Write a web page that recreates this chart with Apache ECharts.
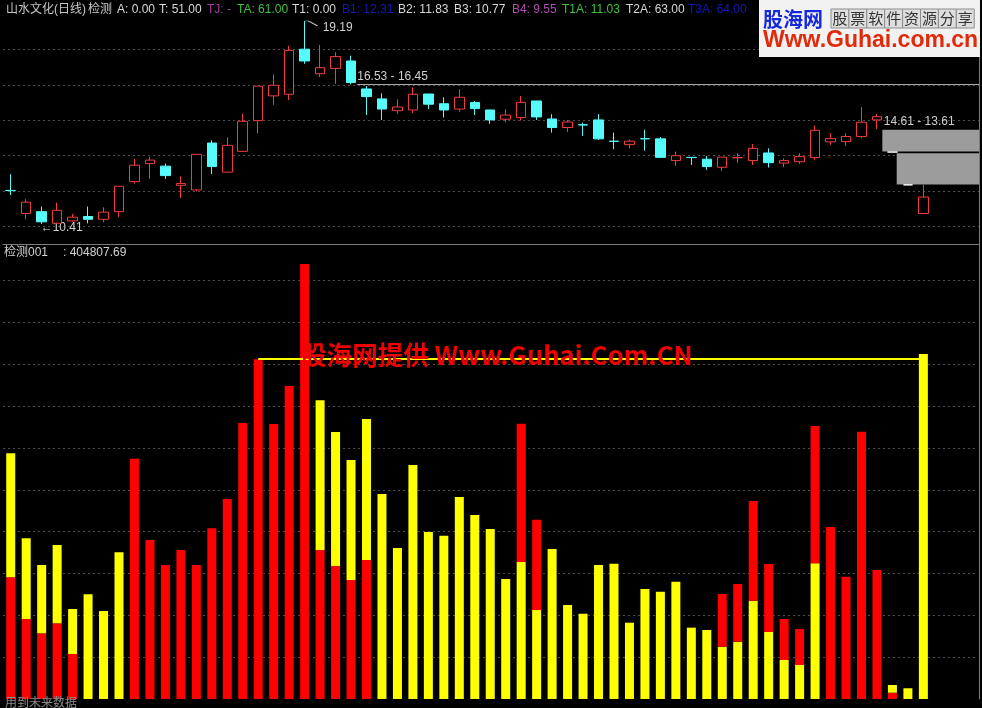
<!DOCTYPE html>
<html><head><meta charset="utf-8">
<script src="https://cdn.jsdelivr.net/npm/echarts@6/dist/echarts.min.js"></script>
<style>html,body{margin:0;padding:0;background:#000;}#c{width:982px;height:708px;}</style>
</head><body><div id="c"></div>
<script>
// ---- price data (day index = array position) ----
const openP  = [11.86,10.86,10.94,10.44,10.54,10.73,10.61,10.94,12.24,13.02,12.91,12.08,11.88,13.91,12.65,13.55,14.88,15.95,16.02,17.97,
                16.91,17.14,17.46,16.25,15.82,15.31,15.34,16.03,15.61,15.38,15.66,15.34,14.94,15.01,15.73,14.95,14.58,14.70,14.91,13.99,
                13.84,14.10,14.09,13.15,13.29,13.21,12.86,13.27,13.15,13.48,13.04,13.10,13.28,13.96,13.97,14.19,14.91,null,null,10.86];
const closeP = [11.85,11.35,10.50,11.00,10.70,10.61,10.92,12.04,12.95,13.17,12.50,12.16,13.42,12.89,13.81,14.85,16.37,16.41,17.92,17.46,
                17.17,17.65,16.53,15.92,15.38,15.47,16.02,15.59,15.34,15.89,15.40,14.91,15.12,15.67,15.04,14.58,14.82,14.69,14.09,13.98,
                13.99,14.09,13.29,13.36,13.28,12.89,13.30,13.28,13.68,13.06,13.15,13.32,14.46,14.10,14.19,14.81,15.05,null,null,11.57];
const lowP   = [11.66,10.61,10.41,10.42,10.50,10.43,10.48,10.70,12.15,12.36,12.36,11.53,11.81,12.57,12.64,13.55,14.32,15.56,15.77,17.34,
                16.77,16.47,16.45,15.12,14.91,15.17,15.20,15.38,15.01,15.27,15.12,14.74,14.81,14.88,14.91,14.36,14.39,14.22,14.04,13.64,
                13.68,13.58,13.26,12.92,12.96,12.75,12.70,13.04,12.96,12.85,12.86,13.01,13.18,13.83,13.78,14.12,14.51,null,null,10.85];
const highP  = [12.56,11.48,11.16,11.33,10.84,11.16,11.13,12.05,13.22,13.32,13.02,12.47,13.43,14.03,14.16,15.18,16.37,16.89,18.12,19.19,
                18.15,17.84,17.69,16.38,16.06,15.80,16.32,16.04,15.89,16.24,15.72,15.35,15.37,15.95,15.74,15.16,14.91,14.79,15.16,14.36,
                14.07,14.48,14.17,13.54,13.30,13.35,13.30,13.47,13.87,13.68,13.25,13.47,14.66,14.33,14.33,15.46,15.17,null,null,12.10];
// flat placeholder days (white marks)
const futureDays  = [57, 58];
const futureLevel = [13.52, 12.10];
// grey projection boxes: [xStart, priceTop, xEnd, priceBottom]
const boxA = [56.35, 14.48, 62.6, 13.54];
const boxB = [57.28, 13.47, 62.6, 12.11];
// price annotations
const highMark = [19, 19.19];
const lowMark  = [2, 10.41];
const levelLine = [22.4, 16.45];
const levelText = '16.53 - 16.45';
const rangeText = '14.61 - 13.61';
const rangePos  = [56.45, 14.82];

// ---- indicator bars ----
const dayLabels = ['1','2','3','4','5','6','7','8','9','10','11','12','13','14','15','16','17','18','19','20',
                   '21','22','23','24','25','26','27','28','29','30','31','32','33','34','35','36','37','38','39','40',
                   '41','42','43','44','45','46','47','48','49','50','51','52','53','54','55','56','57','58','59','60','61','62','63'];
const redBottom = [142800,93900,77100,88800,52800,0,0,0,282000,186600,157200,174800,157200,200300,234700,323800,398600,322700,367300,510400,
                   174800,156100,139600,163100,0,0,0,0,0,0,0,0,0,0,0,0,0,0,0,0,
                   0,0,0,0,0,0,0,0,0,0,0,0,0,201800,143500,313600,151400,7400,0,0];
const yellowMid = [145500,94700,80100,91900,52800,122800,103300,172100,0,0,0,0,0,0,0,0,0,0,0,0,
                   175600,157200,140800,165400,240500,177200,274600,196000,191600,237000,215900,199500,140800,160700,104400,176000,110300,100100,157200,158800,
                   89500,129100,125900,137600,83700,81000,61400,67200,115300,78600,45800,39900,159200,0,0,0,0,9000,12600,404807.69];
const redTop    = [0,0,0,0,0,0,0,0,0,0,0,0,0,0,0,0,0,0,0,0,
                   0,0,0,0,0,0,0,0,0,0,0,0,0,162300,106000,0,0,0,0,0,
                   0,0,0,0,0,0,61800,67700,117000,79800,48100,42200,161100,0,0,0,0,0,0,0];
const refLevel = [16, 59, 399500];
const lastValue = '404807.69';

// ---- header ----
const headerItems = [
  ['山水文化(日线)', 6, '#c8c8c8'], ['检测', 88, '#c8c8c8'], ['A: 0.00', 117, '#d8d8d8'], ['T: 51.00', 159, '#d8d8d8'],
  ['TJ: -', 207, '#a040a0'], ['TA: 61.00', 237, '#40c040'], ['T1: 0.00', 292, '#d8d8d8'], ['B1: 12.31', 342, '#1818b8'],
  ['B2: 11.83', 398, '#d8d8d8'], ['B3: 10.77', 454, '#d8d8d8'], ['B4: 9.55', 512, '#b050b0'], ['T1A: 11.03', 562, '#40c040'],
  ['T2A: 63.00', 626, '#d8d8d8'], ['T3A: 64.00', 688, '#1818b8']
];

const FONT = '"Liberation Sans", "Noto Sans CJK SC", sans-serif';
const chart = echarts.init(document.getElementById('c'), null, {renderer: 'canvas'});

const kData = openP.map((o, i) => o == null ? null : [i, o, closeP[i], lowP[i], highP[i]]).filter(d => d);
const fData = futureDays.map((d, k) => [d, futureLevel[k], futureLevel[k], futureLevel[k], futureLevel[k]]);

const graphics = [];
headerItems.forEach(h => graphics.push({type: 'text', x: h[1], y: 10, z: 100,
  style: {text: h[0], fill: h[2], fontSize: 12, fontFamily: FONT, verticalAlign: 'middle'}}));
// logo
graphics.push({type: 'rect', shape: {x: 759, y: 0, width: 221, height: 57}, style: {fill: '#f2f2f2'}, z: 100});
graphics.push({type: 'text', x: 763, y: 19, z: 101, style: {text: '股海网', fill: '#1428dc', fontSize: 20, fontWeight: 'bold', fontFamily: '"Noto Sans CJK SC"', verticalAlign: 'middle'}});
'股票软件资源分享'.split('').forEach((ch, k) => {
  graphics.push({type: 'rect', z: 101, shape: {x: 831 + k * 17.9, y: 9, width: 17.9, height: 19}, style: {fill: '#dedede', stroke: '#8c8c8c', lineWidth: 1}});
  graphics.push({type: 'text', z: 102, x: 831 + k * 17.9 + 8.95, y: 18.5, style: {text: ch, fill: '#333', fontSize: 15, fontFamily: '"Noto Sans CJK SC"', align: 'center', verticalAlign: 'middle'}});
});
graphics.push({type: 'text', x: 763, y: 41, z: 101, style: {text: 'Www.Guhai.com.cn', fill: '#e02a0a', fontSize: 23, fontWeight: 'bold', fontFamily: '"Liberation Sans"', verticalAlign: 'middle'}});
// indicator title
graphics.push({type: 'text', x: 4, y: 253, z: 100, style: {text: '检测001', fill: '#d0d0d0', fontSize: 12, fontFamily: FONT, verticalAlign: 'middle'}});
graphics.push({type: 'text', x: 63, y: 253, z: 100, style: {text: ': ' + lastValue, fill: '#d0d0d0', fontSize: 12, fontFamily: FONT, verticalAlign: 'middle'}});
graphics.push({type: 'text', x: 5, y: 704, z: 100, style: {text: '用到未来数据', fill: '#8c8c8c', fontSize: 12, fontFamily: FONT, verticalAlign: 'middle'}});
// watermark
graphics.push({type: 'text', x: 301, y: 355, z: 120, style: {text: '股海网提供 Www.Guhai.Com.CN', fill: '#f00000', fontSize: 25.6, fontWeight: 'bold', fontFamily: '"Noto Sans CJK SC"', verticalAlign: 'middle'}});

const splitStyle = {show: true, showMinLine: false, showMaxLine: false, lineStyle: {color: '#4e4e4e', type: [2, 3], width: 1}};
const lbl = {color: '#d0d0d0', fontSize: 12, fontFamily: FONT};

chart.setOption({
  backgroundColor: '#000',
  animation: false,
  graphic: graphics,
  grid: [{left: 3, top: 14, width: 976, height: 230}, {left: 3, top: 244, width: 974.5, height: 455}],
  xAxis: [
    {gridIndex: 0, type: 'value', min: -0.5, max: 62.6, axisLine: {show: true, onZero: false, lineStyle: {color: '#7a7a7a'}}, axisTick: {show: false}, axisLabel: {show: false}, splitLine: {show: false}},
    {gridIndex: 1, type: 'category', data: dayLabels, boundaryGap: true, axisLine: {show: false, onZero: false}, axisTick: {show: false}, axisLabel: {show: false}, splitLine: {show: false}}
  ],
  yAxis: [
    {gridIndex: 0, type: 'value', min: 9.5404, max: 19.4928, axisLine: {show: false}, axisTick: {show: false}, axisLabel: {show: false}, splitLine: {show: false}},
    {gridIndex: 0, type: 'value', min: 0, max: 6.5, interval: 1, inverse: true, position: 'right', axisLine: {show: true, lineStyle: {color: '#7a7a7a'}}, axisTick: {show: false}, axisLabel: {show: false}, splitLine: splitStyle},
    {gridIndex: 1, type: 'value', min: 0, max: 533874, interval: 49080, position: 'right', offset: 1.5, axisLine: {show: true, lineStyle: {color: '#7a7a7a'}}, axisTick: {show: false}, axisLabel: {show: false}, splitLine: splitStyle}
  ],
  series: [
    {
      type: 'candlestick', name: 'K', xAxisIndex: 0, yAxisIndex: 0, barWidth: 10, data: kData, z: 5,
      itemStyle: {color: '#000000', borderColor: '#f03c3c', color0: '#54fcfc', borderColor0: '#54fcfc', borderWidth: 1},
      markLine: {silent: true, symbol: 'none', animation: false,
        lineStyle: {color: '#a8a8a8', width: 1, type: 'solid'},
        label: {show: true, position: 'insideStartTop', formatter: levelText, distance: [0, 2], ...lbl},
        data: [[{coord: [levelLine[0], levelLine[1]]}, {coord: [62.6, levelLine[1]]}]]},
      markPoint: {silent: true, animation: false, data: [
        {coord: highMark, symbol: 'path://M0 0 L4 0 L13 5', symbolSize: [13, 5], symbolOffset: [6.5, 2.5],
          itemStyle: {color: 'none', borderColor: '#d0d0d0', borderWidth: 1},
          label: {show: true, formatter: String(highMark[1]), position: 'right', distance: 1, offset: [0, 4], ...lbl}},
        {coord: lowMark, symbol: 'circle', symbolSize: 0,
          label: {show: true, formatter: '←' + lowMark[1], position: 'inside', align: 'left', verticalAlign: 'middle', offset: [-1, 4], ...lbl}},
        {coord: rangePos, symbol: 'circle', symbolSize: 0,
          label: {show: true, formatter: rangeText, position: 'inside', align: 'left', verticalAlign: 'middle', ...lbl}}
      ]},
      markArea: {silent: true, itemStyle: {color: '#9c9c9c', opacity: 1}, data: [
        [{coord: [boxA[0], boxA[1]]}, {coord: [boxA[2], boxA[3]]}],
        [{coord: [boxB[0], boxB[1]]}, {coord: [boxB[2], boxB[3]]}]
      ]}
    },
    {
      type: 'candlestick', name: 'future', xAxisIndex: 0, yAxisIndex: 0, barWidth: 10, data: fData, z: 6,
      itemStyle: {color: '#ffffff', borderColor: '#ffffff', color0: '#ffffff', borderColor0: '#ffffff', borderWidth: 1}
    },
    {type: 'bar', name: 'redBottom', xAxisIndex: 1, yAxisIndex: 2, stack: 'v', barWidth: 9, data: redBottom, itemStyle: {color: '#ff0000'}},
    {type: 'bar', name: 'yellowMid', xAxisIndex: 1, yAxisIndex: 2, stack: 'v', barWidth: 9, data: yellowMid, itemStyle: {color: '#ffff00'},
      markLine: {silent: true, symbol: 'none', animation: false, label: {show: false},
        lineStyle: {color: '#ffff00', width: 2, type: 'solid'},
        data: [[{coord: [refLevel[0], refLevel[2]]}, {coord: [refLevel[1], refLevel[2]]}]]}},
    {type: 'bar', name: 'redTop', xAxisIndex: 1, yAxisIndex: 2, stack: 'v', barWidth: 9, data: redTop, itemStyle: {color: '#ff0000'}}
  ]
});
</script></body></html>
